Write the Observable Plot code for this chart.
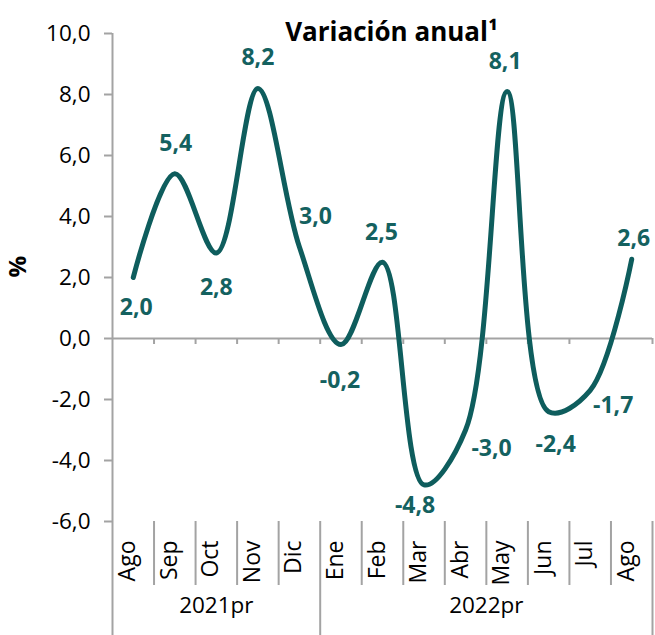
<!DOCTYPE html>
<html>
<head>
<meta charset="utf-8">
<script src="https://cdn.jsdelivr.net/npm/d3@7"></script>
<script src="https://cdn.jsdelivr.net/npm/@observablehq/plot@0.6"></script>
<style>
  html, body { margin: 0; padding: 0; background: #fff; }
  #chart { width: 655px; height: 635px; }
</style>
</head>
<body>
<div id="chart"></div>
<script>
// ---- Data ----
const months = ["Ago", "Sep", "Oct", "Nov", "Dic", "Ene", "Feb", "Mar", "Abr", "May", "Jun", "Jul", "Ago"];
const values = [2.0, 5.4, 2.8, 8.2, 3.0, -0.2, 2.5, -4.8, -3.0, 8.1, -2.4, -1.7, 2.6];
const years = ["2021pr", "2022pr"];
const monthsPerYear = [5, 8];
const yTicks = [-6, -4, -2, 0, 2, 4, 6, 8, 10];
const title = "Variación anual¹";
const yLabel = "%";

// ---- Styling / placement (not data) ----
const teal = "#0e5d5d";
const labelTeal = "#14615f";
const gray = "#a3a3a3";
const labelOffsets = [
  [3, 30], [1, -30], [0, 35], [0, -31], [16, -30], [-1, 36], [-1, -30],
  [-9, 21], [26, 19], [-2, -30], [7, 33], [23, 15], [2, -21]
];

const fmt = v => v.toFixed(1).replace(".", ",");
const n = months.length;
const pts = values.map((v, i) => ({x: i + 0.5, y: v, label: fmt(v)}));
const inner = d3.range(1, n).filter(b => b !== monthsPerYear[0]);
const yearBounds = [0, ...d3.cumsum(monthsPerYear)];
const yearCenters = years.map((y, i) => ({name: y, x: (yearBounds[i] + yearBounds[i + 1]) / 2}));

const marks = [
  Plot.ruleY([0], {stroke: gray, strokeWidth: 2}),
  Plot.ruleX(d3.range(1, n + 1), {x: d => d, y1: 0, y2: 0, insetBottom: -6, stroke: gray, strokeWidth: 2}),
  Plot.ruleX([0], {x: d => d, y1: 10, y2: -6, insetBottom: -114, stroke: gray, strokeWidth: 2}),
  Plot.ruleX(inner, {x: d => d, y1: -6, y2: -6, insetBottom: -64, stroke: gray, strokeWidth: 2}),
  Plot.ruleX(yearBounds.slice(1), {x: d => d, y1: -6, y2: -6, insetBottom: -114, stroke: gray, strokeWidth: 2}),
  Plot.axisY({
    ticks: yTicks, tickSize: 8, tickPadding: 14, tickFormat: fmt,
    stroke: gray, strokeWidth: 2, fill: "#000", fontSize: 22.5, label: null
  }),
  Plot.text(months, {
    x: (d, i) => i + 0.5, text: d => d, frameAnchor: "bottom", dy: 19, dx: 2,
    rotate: -90, textAnchor: "end", fontSize: 23, fill: "#000"
  }),
  Plot.text(yearCenters, {x: "x", text: "name", frameAnchor: "bottom", dy: 91, fontSize: 22.5, fill: "#000"}),
  Plot.line(pts, {x: "x", y: "y", curve: "catmull-rom", stroke: teal, strokeWidth: 5}),
  Plot.text([yLabel], {frameAnchor: "left", dx: -94, rotate: -90, fontWeight: "bold", fontSize: 24, fill: "#000"}),
  Plot.text([title], {frameAnchor: "top", dx: 9, dy: -11, fontWeight: "bold", fontSize: 26, fill: "#000"}),
  ...pts.map((p, i) => Plot.text([p], {
    x: "x", y: "y", text: "label", dx: labelOffsets[i][0], dy: labelOffsets[i][1],
    fontWeight: "bold", fontSize: 23, fill: labelTeal
  }))
];

const chart = Plot.plot({
  width: 655,
  height: 635,
  marginLeft: 112,
  marginRight: 3,
  marginTop: 33,
  marginBottom: 114,
  style: {fontFamily: "'Open Sans', sans-serif", fontSize: "22px", background: "#fff"},
  x: {domain: [0, n], axis: null},
  y: {domain: [-6, 10], axis: null},
  marks
});
document.getElementById("chart").appendChild(chart);
</script>
</body>
</html>
